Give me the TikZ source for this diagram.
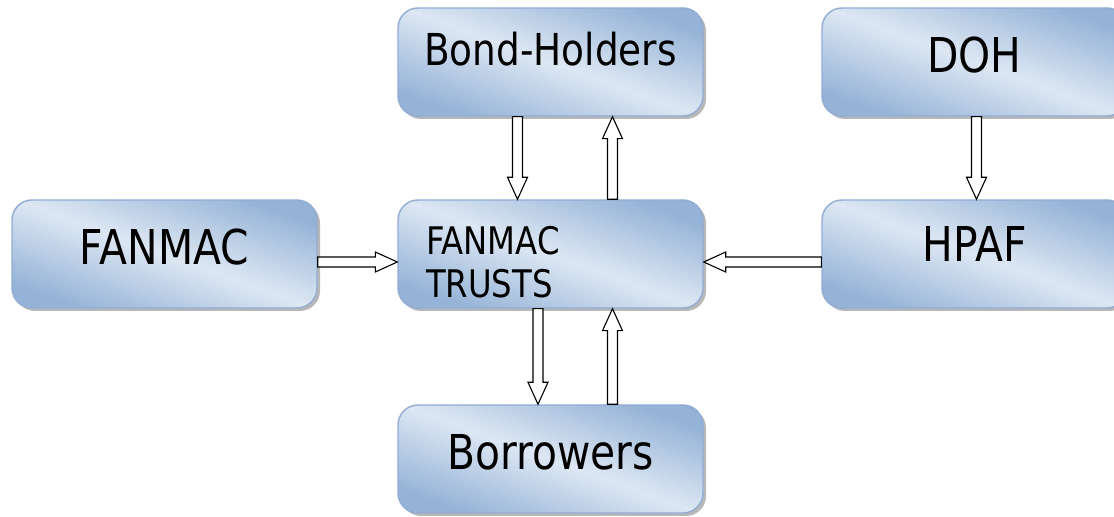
\documentclass[tikz,border=0pt]{standalone}
\usepackage{fontspec}
\setmainfont{DejaVu Sans}[FakeStretch=0.85]
\usetikzlibrary{calc,shadows}
\definecolor{boxdark}{RGB}{149,179,215}
\definecolor{boxlight}{RGB}{221,231,243}
\definecolor{boxline}{RGB}{146,172,212}
\tikzset{
	entity/.style={draw=boxline, line width=0.7pt, rounded corners=10pt,
		top color=boxdark, bottom color=boxdark, middle color=boxlight, shading angle=-20,
		drop shadow={shadow xshift=1.5pt, shadow yshift=-1.5pt, fill=black!55, opacity=0.5},
		minimum width=152.5pt, minimum height=54pt, inner sep=0pt,
		font=\fontsize{24}{28}\selectfont, text depth=7pt},
	blockarrow/.style={draw=black, line width=0.55pt, fill=white, to path={
			($(\tikztostart)!2.5pt!90:(\tikztotarget)$)
			-- ($(\tikztotarget)!11pt!(\tikztostart)!2.5pt!90:(\tikztotarget)$)
			-- ($(\tikztotarget)!11pt!(\tikztostart)!5pt!90:(\tikztotarget)$)
			-- (\tikztotarget)
			-- ($(\tikztotarget)!11pt!(\tikztostart)!5pt!-90:(\tikztotarget)$)
			-- ($(\tikztotarget)!11pt!(\tikztostart)!2.5pt!-90:(\tikztotarget)$)
			-- ($(\tikztostart)!2.5pt!-90:(\tikztotarget)$)
			-- cycle}}
}
\begin{document}
\begin{tikzpicture}[x=0.5pt,y=-0.5pt]
		%%%%% BOXES %%%%%
		\clip (0,0) rectangle (1114,517);
		\fill[white] (0,0) rectangle (1114,517);
		
		\node[entity, font=\fontsize{22}{26}\selectfont, text depth=13pt] (bond) at (550.5,62) {Bond-Holders};
		\node[entity] (doh) at (974.5,62) {DOH};
		\node[entity] (fanmac) at (164.5,254) {FANMAC};
		\node[entity, font=\fontsize{19}{21.5}\selectfont, align=left, text width=124.5pt,
			inner xsep=14pt, text height=22pt, text depth=21pt] (trusts) at (550.5,254) {FANMAC\\TRUSTS};
		\node[entity, text depth=10pt] (hpaf) at (974.5,254) {HPAF};
		\node[entity] (borrowers) at (550.5,459) {Borrowers};
		
		%%%%% ARROWS %%%%%
		\draw[blockarrow] ([xshift=-16.5pt]bond.south) to ([xshift=-16.5pt]trusts.north);
		\draw[blockarrow] ([xshift=31pt]trusts.north) to ([xshift=31pt]bond.south);
		\draw[blockarrow] ([xshift=1pt]doh.south) to ([xshift=1pt]hpaf.north);
		\draw[blockarrow] ([yshift=-4pt]fanmac.east) to ([yshift=-4pt]trusts.west);
		\draw[blockarrow] ([yshift=-4pt]hpaf.west) to ([yshift=-4pt]trusts.east);
		\draw[blockarrow] ([xshift=-6.25pt]trusts.south) to ([xshift=-6.25pt]borrowers.north);
		\draw[blockarrow] ([xshift=31pt]borrowers.north) to ([xshift=31pt]trusts.south);
		
		%%%%% END %%%%%
	\end{tikzpicture}
\end{document}
